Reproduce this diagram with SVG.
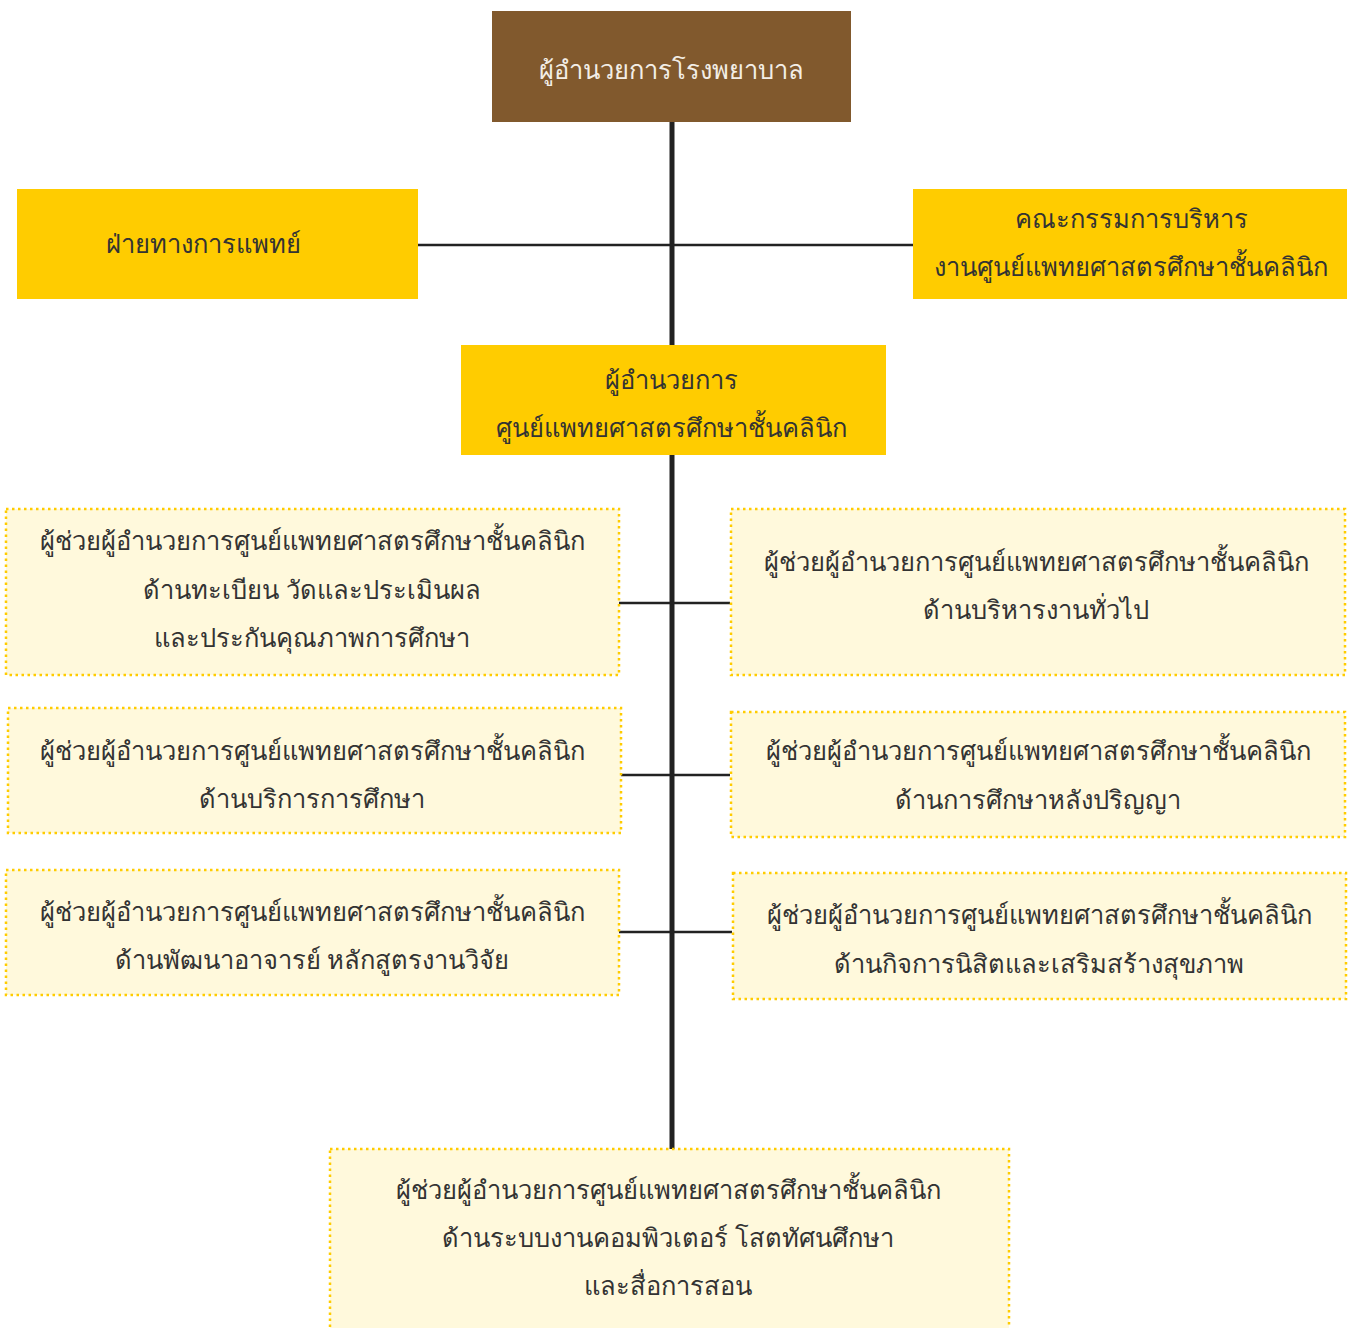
<svg xmlns="http://www.w3.org/2000/svg" width="1352" height="1328" viewBox="0 0 1352 1328">
<style>
.t{font-family:"Noto Sans","DejaVu Sans",sans-serif;font-size:25.5px;fill:#333;text-anchor:middle}
.w{fill:#f3eee6}
.brown{fill:#81592d}
.gold{fill:#ffcc00}
.lite{fill:#fff9dc;stroke:#ffcc00;stroke-width:2.5;stroke-dasharray:2.5 3.5}
.v{stroke:#222;stroke-width:5;fill:none}
.h{stroke:#222;stroke-width:2.5;fill:none}
</style>
<rect width="1352" height="1328" fill="#fff"/>
<g id="connectors">
<line class="v" x1="672" y1="122" x2="672" y2="1149"/>
<line class="h" x1="418" y1="245" x2="913" y2="245"/>
<line class="h" x1="619" y1="603" x2="730" y2="603"/>
<line class="h" x1="621" y1="775" x2="730" y2="775"/>
<line class="h" x1="619" y1="932" x2="732" y2="932"/>
</g>
<g id="n-director">
<rect class="brown" x="492" y="11" width="359" height="111"/>
<text class="t w" x="671" y="79">ผู้อำนวยการโรงพยาบาล</text>
</g>
<g id="n-medical">
<rect class="gold" x="17" y="189" width="401" height="110"/>
<text class="t" x="203" y="253">ฝ่ายทางการแพทย์</text>
</g>
<g id="n-committee">
<rect class="gold" x="913" y="189" width="434" height="110"/>
<text class="t" x="1131" y="228">คณะกรรมการบริหาร</text>
<text class="t" x="1131" y="276">งานศูนย์แพทยศาสตรศึกษาชั้นคลินิก</text>
</g>
<g id="n-center">
<rect class="gold" x="461" y="345" width="425" height="110"/>
<text class="t" x="671" y="389">ผู้อำนวยการ</text>
<text class="t" x="671" y="437">ศูนย์แพทยศาสตรศึกษาชั้นคลินิก</text>
</g>
<g id="n-l1">
<rect class="lite" x="6" y="509" width="613" height="166"/>
<text class="t" x="312" y="550">ผู้ช่วยผู้อำนวยการศูนย์แพทยศาสตรศึกษาชั้นคลินิก</text>
<text class="t" x="312" y="599">ด้านทะเบียน วัดและประเมินผล</text>
<text class="t" x="312" y="647">และประกันคุณภาพการศึกษา</text>
</g>
<g id="n-r1">
<rect class="lite" x="731" y="509" width="614" height="166"/>
<text class="t" x="1036" y="571">ผู้ช่วยผู้อำนวยการศูนย์แพทยศาสตรศึกษาชั้นคลินิก</text>
<text class="t" x="1036" y="619">ด้านบริหารงานทั่วไป</text>
</g>
<g id="n-l2">
<rect class="lite" x="8" y="708" width="613" height="125"/>
<text class="t" x="312" y="760">ผู้ช่วยผู้อำนวยการศูนย์แพทยศาสตรศึกษาชั้นคลินิก</text>
<text class="t" x="312" y="808">ด้านบริการการศึกษา</text>
</g>
<g id="n-r2">
<rect class="lite" x="731" y="712" width="614" height="125"/>
<text class="t" x="1038" y="760">ผู้ช่วยผู้อำนวยการศูนย์แพทยศาสตรศึกษาชั้นคลินิก</text>
<text class="t" x="1038" y="809">ด้านการศึกษาหลังปริญญา</text>
</g>
<g id="n-l3">
<rect class="lite" x="6" y="870" width="613" height="125"/>
<text class="t" x="312" y="921">ผู้ช่วยผู้อำนวยการศูนย์แพทยศาสตรศึกษาชั้นคลินิก</text>
<text class="t" x="312" y="969">ด้านพัฒนาอาจารย์ หลักสูตรงานวิจัย</text>
</g>
<g id="n-r3">
<rect class="lite" x="733" y="873" width="613" height="126"/>
<text class="t" x="1039" y="924">ผู้ช่วยผู้อำนวยการศูนย์แพทยศาสตรศึกษาชั้นคลินิก</text>
<text class="t" x="1039" y="973">ด้านกิจการนิสิตและเสริมสร้างสุขภาพ</text>
</g>
<g id="n-bottom">
<rect class="lite" x="330" y="1149" width="679" height="190"/>
<text class="t" x="668" y="1199">ผู้ช่วยผู้อำนวยการศูนย์แพทยศาสตรศึกษาชั้นคลินิก</text>
<text class="t" x="668" y="1247">ด้านระบบงานคอมพิวเตอร์ โสตทัศนศึกษา</text>
<text class="t" x="668" y="1295">และสื่อการสอน</text>
</g>
</svg>
